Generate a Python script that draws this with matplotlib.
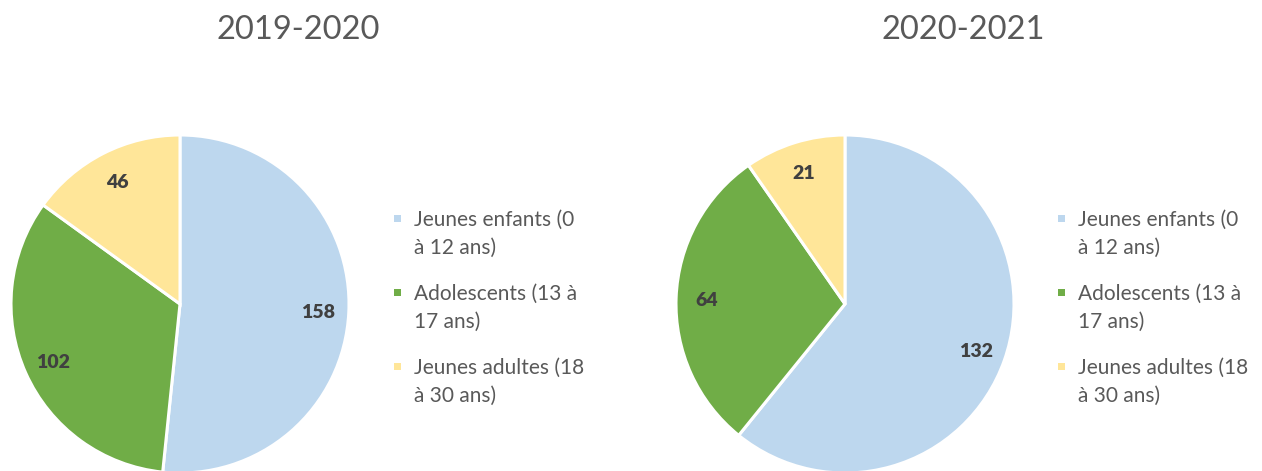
import textwrap
import matplotlib
matplotlib.use("Agg")
import matplotlib.pyplot as plt
from matplotlib.patches import Rectangle

plt.rcParams['font.family'] = ['Lato', 'DejaVu Sans']

titles = ["2019-2020", "2020-2021"]
categories = ["Jeunes enfants (0 à 12 ans)", "Adolescents (13 à 17 ans)", "Jeunes adultes (18 à 30 ans)"]
values_2019 = [158, 102, 46]
values_2020 = [132, 64, 21]
colors = ["#BDD7EE", "#70AD47", "#FFE699"]

W, H = 1262, 471
fig = plt.figure(figsize=(W / 100, H / 100), dpi=100)

def px_axes(cx, cy, r):
    return fig.add_axes([(cx - r) / W, (H - (cy + r)) / H, 2 * r / W, 2 * r / H])

centers = [(180, 304), (845, 304)]
R = 169
title_x = [298, 963]
legend_x = [397, 1061]

for k, vals in enumerate([values_2019, values_2020]):
    cx, cy = centers[k]
    ax = px_axes(cx, cy, R)
    wedges, texts = ax.pie(vals, colors=colors, startangle=90, counterclock=False,
                           radius=1.0, labels=[str(v) for v in vals], labeldistance=0.82,
                           wedgeprops=dict(edgecolor="white", linewidth=2.2),
                           textprops=dict(fontsize=14, fontweight="heavy", color="#404040"))
    for t in texts:
        t.set_ha("center")
        t.set_va("center_baseline")
    ax.set_xlim(-1, 1)
    ax.set_ylim(-1, 1)
    ax.set_aspect("equal")
    ax.axis("off")
    for w in wedges:
        w.set_clip_on(False)

    fig.text(title_x[k] / W, 1 - 30 / H, titles[k], ha="center", va="center",
             fontsize=23.5, color="#595959")

    for i, cat in enumerate(categories):
        yc = 218 + 74 * i
        lx = legend_x[k]
        fig.add_artist(Rectangle(((lx - 3.5) / W, (H - yc - 3.5) / H), 7 / W, 7 / H,
                                 transform=fig.transFigure, facecolor=colors[i],
                                 edgecolor="none"))
        lines = textwrap.wrap(cat, 18)
        for j, line in enumerate(lines):
            fig.text((lx + 17) / W, 1 - (yc + 28 * j) / H, line, ha="left",
                     va="center_baseline", fontsize=15, color="#595959")

fig.savefig("out.png", dpi=100)
